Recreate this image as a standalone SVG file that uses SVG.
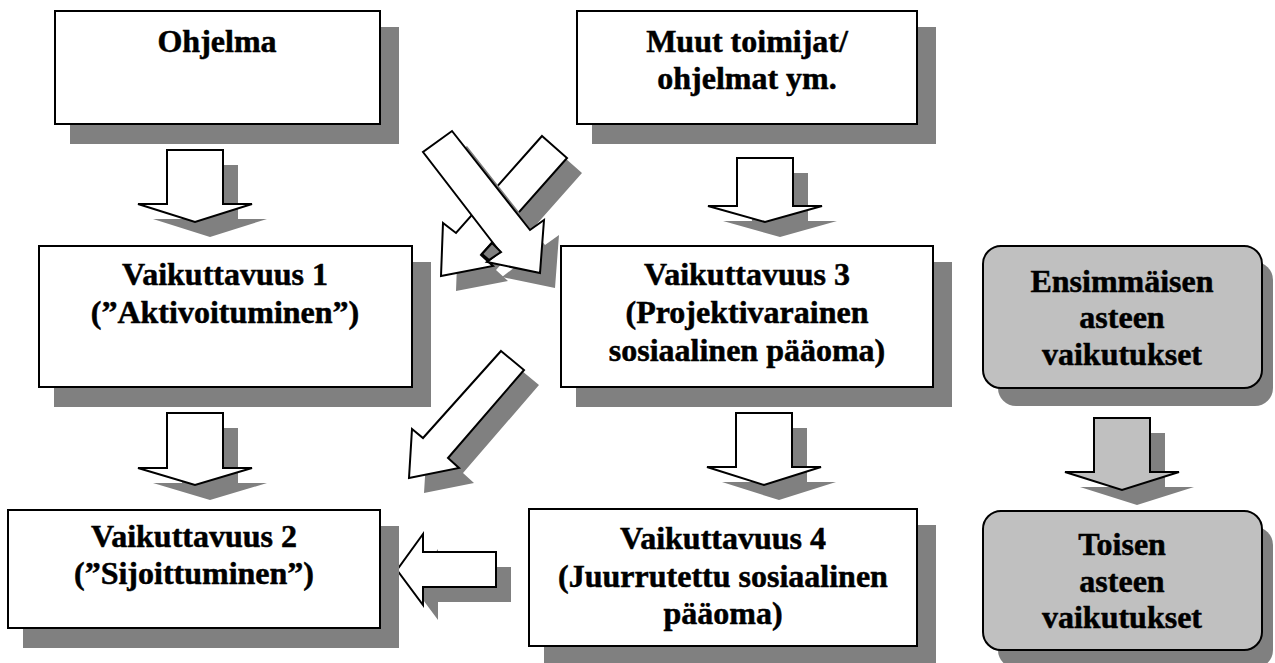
<svg xmlns="http://www.w3.org/2000/svg" width="1275" height="663" viewBox="0 0 1275 663">
<style>
.box{fill:#fff;stroke:#000;stroke-width:2}
.gbox{fill:#c0c0c0;stroke:#000;stroke-width:2}
.sh{fill:#808080;stroke:none}
.arr{fill:#fff;stroke:#000;stroke-width:2;stroke-linejoin:miter}
.garr{fill:#c0c0c0;stroke:#000;stroke-width:2}
.t{stroke:#000;stroke-width:0.5}
</style>
<rect width="1275" height="663" fill="#fff"/>
<g id="connectors">
  <g id="a1"><path class="sh" transform="translate(15,15)" d="M167,150 H223 V204 H252 L195,222 L138,204 H167 Z"/><path class="arr" d="M167,150 H223 V204 H252 L195,222 L138,204 H167 Z"/></g>
  <g id="a2"><path class="sh" transform="translate(15,15)" d="M167,413 H223 V468 H252 L195,485 L138,468 H167 Z"/><path class="arr" d="M167,413 H223 V468 H252 L195,485 L138,468 H167 Z"/></g>
  <g id="a3"><path class="sh" transform="translate(15,15)" d="M737,158 H793 V206 H822 L765,222 L708,206 H737 Z"/><path class="arr" d="M737,158 H793 V206 H822 L765,222 L708,206 H737 Z"/></g>
  <g id="a4"><path class="sh" transform="translate(15,15)" d="M736,413 H792 V467 H821 L764,485 L707,467 H736 Z"/><path class="arr" d="M736,413 H792 V467 H821 L764,485 L707,467 H736 Z"/></g>
  <g id="a5"><path class="sh" transform="translate(15,15)" d="M1094,418 H1150 V472 H1179 L1122,490 L1065,472 H1094 Z"/><path class="garr" d="M1094,418 H1150 V472 H1179 L1122,490 L1065,472 H1094 Z"/></g>
  <g id="a6"><path class="sh" transform="translate(15,15)" d="M496,552 V587 H423 V605 L397,570 L423,534 V552 Z"/><path class="arr" d="M496,552 V587 H423 V605 L397,570 L423,534 V552 Z"/></g>
  <g id="a7"><path class="sh" transform="translate(15,15)" d="M501,351 L524,370 L448,458 L459,468 L409,478 L412,429 L423,438 Z"/><path class="arr" d="M501,351 L524,370 L448,458 L459,468 L409,478 L412,429 L423,438 Z"/></g>
  <g id="a8"><path class="sh" transform="translate(15,15)" d="M542,136 L567,158 L481,255 L493,266 L441,276 L443,223 L456,233 Z"/><path class="arr" d="M542,136 L567,158 L481,255 L493,266 L441,276 L443,223 L456,233 Z"/></g>
  <g id="a9"><path class="sh" transform="translate(15,15)" d="M452,131 L530,230 L544,220 L540,273 L487,262 L500,252 L423,152 Z"/><path class="arr" d="M452,131 L530,230 L544,220 L540,273 L487,262 L500,252 L423,152 Z"/><path d="M482,254 L492,243 L501,252 L489,260 Z" fill="#808080" stroke="#000" stroke-width="2"/></g>
</g>
<g font-family="'Liberation Serif', 'Times New Roman', 'DejaVu Serif', serif" font-weight="bold" font-size="32" text-anchor="middle" fill="#000">
<g id="ohjelma">
  <rect class="sh" x="70" y="27" width="329" height="117"/>
  <rect class="box" x="55" y="11" width="325" height="113"/>
  <text class="t" x="217" y="52">Ohjelma</text>
</g>
<g id="muut">
  <rect class="sh" x="592" y="27" width="344" height="117"/>
  <rect class="box" x="577" y="11" width="340" height="113"/>
  <text class="t" x="747" y="52">Muut toimijat/</text>
  <text class="t" x="747" y="89">ohjelmat ym.</text>
</g>
<g id="v1">
  <rect class="sh" x="54" y="262" width="377" height="145"/>
  <rect class="box" x="39" y="246" width="373" height="141"/>
  <text class="t" x="225" y="285">Vaikuttavuus 1</text>
  <text class="t" x="225" y="323">(”Aktivoituminen”)</text>
</g>
<g id="v3">
  <rect class="sh" x="576" y="262" width="376" height="145"/>
  <rect class="box" x="561" y="246" width="372" height="141"/>
  <text class="t" x="747" y="285">Vaikuttavuus 3</text>
  <text class="t" x="747" y="323">(Projektivarainen</text>
  <text class="t" x="747" y="361">sosiaalinen pääoma)</text>
</g>
<g id="ens">
  <rect class="sh" x="998" y="262" width="275" height="144" rx="18"/>
  <rect class="gbox" x="983" y="246" width="279" height="142" rx="18"/>
  <text class="t" x="1122" y="292">Ensimmäisen</text>
  <text class="t" x="1122" y="328">asteen</text>
  <text class="t" x="1122" y="365">vaikutukset</text>
</g>
<g id="v2">
  <rect class="sh" x="23" y="526" width="376" height="122"/>
  <rect class="box" x="8" y="510" width="372" height="118"/>
  <text class="t" x="194" y="547">Vaikuttavuus 2</text>
  <text class="t" x="194" y="584">(”Sijoittuminen”)</text>
</g>
<g id="v4">
  <rect class="sh" x="544" y="525" width="392" height="141"/>
  <rect class="box" x="529" y="509" width="388" height="137"/>
  <text class="t" x="723" y="549">Vaikuttavuus 4</text>
  <text class="t" x="723" y="587">(Juurrutettu sosiaalinen</text>
  <text class="t" x="723" y="624">pääoma)</text>
</g>
<g id="toisen">
  <rect class="sh" x="998" y="527" width="275" height="141" rx="18"/>
  <rect class="gbox" x="983" y="511" width="279" height="139" rx="18"/>
  <text class="t" x="1122" y="555">Toisen</text>
  <text class="t" x="1122" y="592">asteen</text>
  <text class="t" x="1122" y="628">vaikutukset</text>
</g>
</g>
</svg>
